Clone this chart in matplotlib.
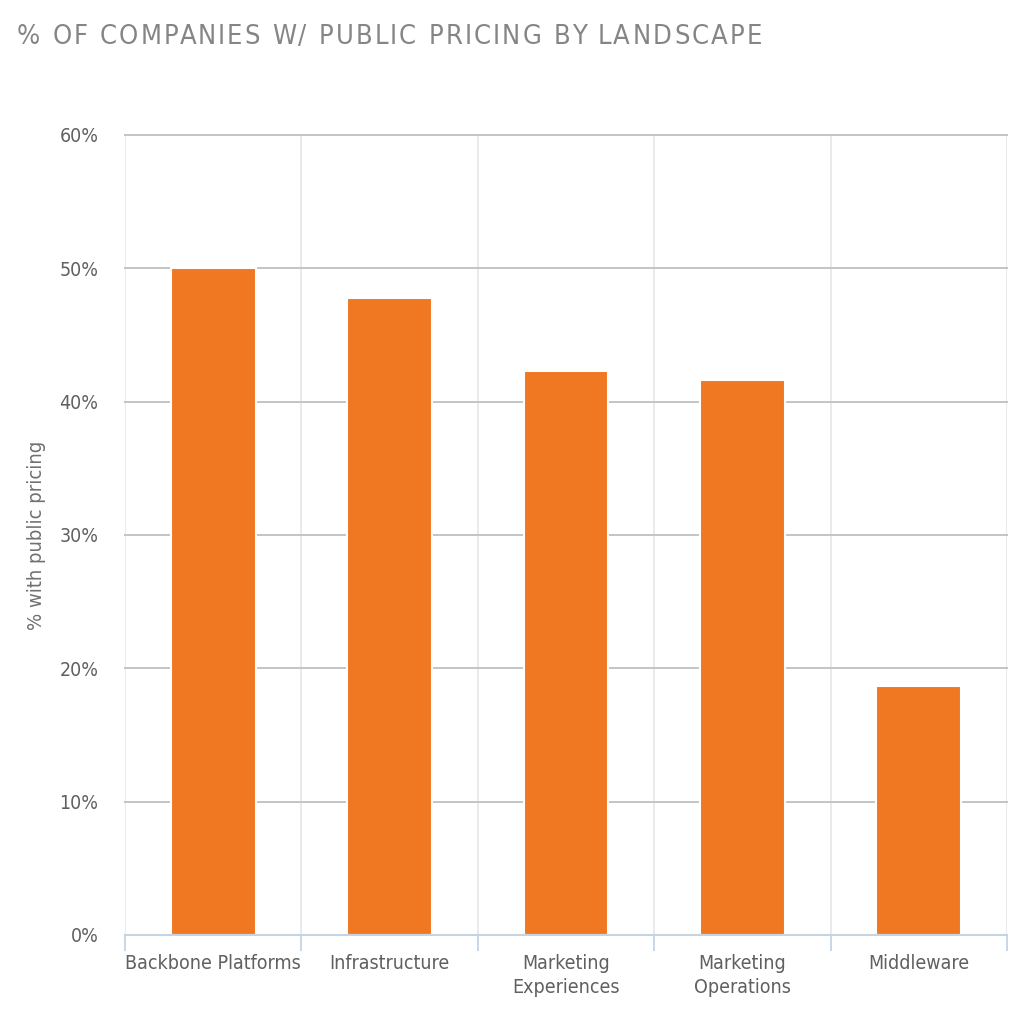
import matplotlib
matplotlib.use("Agg")
from matplotlib import pyplot as plt
from matplotlib.ticker import FuncFormatter, FixedLocator
from matplotlib.font_manager import FontProperties

# data
categories = ["Backbone Platforms", "Infrastructure", "Marketing\nExperiences",
              "Marketing\nOperations", "Middleware"]
pct_public = [50.0, 47.8, 42.3, 41.6, 18.7]
yticks = [0, 10, 20, 30, 40, 50, 60]

TITLE = "% OF COMPANIES W/ PUBLIC PRICING BY LANDSCAPE"
ORANGE = "#F07822"
FONT = dict(family="DejaVu Sans", stretch="condensed")

plt.rcParams["font.family"] = ["DejaVu Sans"]

fig = plt.figure(figsize=(10.24, 10.24), dpi=100)
ax = fig.add_axes([125 / 1024, 1 - 935 / 1024, 882 / 1024, 800 / 1024])

x = list(range(len(categories)))
ax.bar(x, pct_public, width=0.48, color=ORANGE, edgecolor="white", lw=1.5, zorder=3)

ax.set_xlim(-0.5, len(categories) - 0.5)
ax.set_ylim(0, 60)
ax.set_yticks(yticks)
ax.yaxis.set_major_formatter(FuncFormatter(lambda v, _: f"{v:.0f}%"))
ax.grid(True, axis="y", color="#c4c4c4", lw=1.4, zorder=1)
for gl in ax.get_ygridlines():
    gl.set_clip_on(False)

# vertical separators between categories
bounds = [i - 0.5 for i in range(len(categories) + 1)]
for b in bounds:
    ax.axvline(b, color="#e6e6e6", lw=1.2, zorder=0)

ax.set_xticks(x)
ax.set_xticklabels(categories, color="#606060", fontsize=14, linespacing=1.3, **FONT)
ax.xaxis.set_minor_locator(FixedLocator(bounds))
ax.tick_params(axis="x", which="major", length=0, pad=14)
ax.tick_params(axis="x", which="minor", length=11.5, width=1.3, color="#c5d3e2")
ax.tick_params(axis="y", length=0, pad=19, labelcolor="#606060", labelsize=14)
for lab in ax.get_yticklabels():
    lab.set_fontstretch("condensed")

for side in ["top", "right", "left"]:
    ax.spines[side].set_visible(False)
ax.spines["bottom"].set_color("#c5d3e2")
ax.spines["bottom"].set_linewidth(1.5)
ax.spines["bottom"].set_zorder(4)

fig.text(37 / 1024, 1 - 535 / 1024, "% with public pricing", rotation=90,
         ha="center", va="center", color="#707070", fontsize=14.5, **FONT)

# title with letter spacing
renderer = fig.canvas.get_renderer()
prop = FontProperties(family="DejaVu Sans", stretch="condensed", size=19.5)
full_w = renderer.get_text_width_height_descent(TITLE, prop, ismath=False)[0]
x0, x1 = 17, 762
spacing = (x1 - x0 - full_w) / (len(TITLE) - 1)
for i, ch in enumerate(TITLE):
    w = renderer.get_text_width_height_descent(TITLE[:i], prop, ismath=False)[0] if i else 0
    fig.text((x0 + w + i * spacing) / 1024, 1 - 44 / 1024, ch, fontproperties=prop,
             color="#858585", ha="left", va="baseline")

fig.savefig("out.png", dpi=100)
